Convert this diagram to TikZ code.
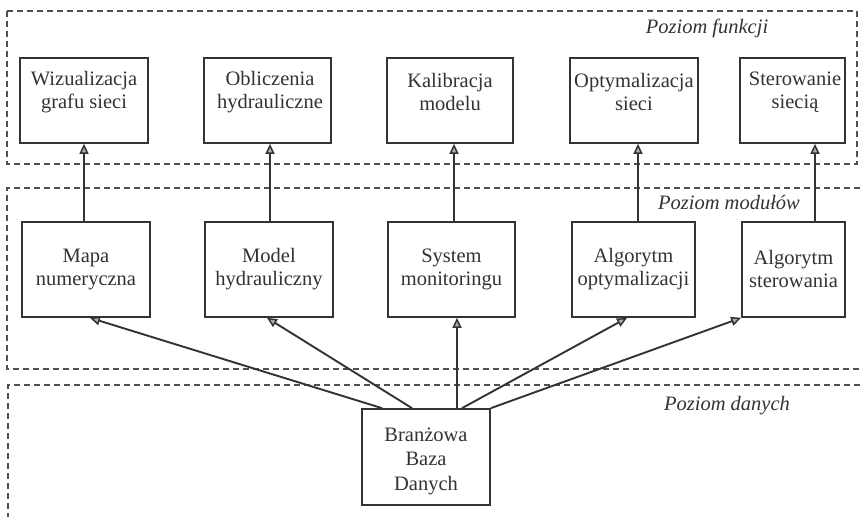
\documentclass[tikz,border=0pt]{standalone}
\usepackage{fontspec}
\setmainfont{Liberation Serif}
\usetikzlibrary{arrows.meta}
\definecolor{ink}{HTML}{333333}
\definecolor{dash}{HTML}{505050}
\begin{document}
\begin{tikzpicture}[x=1pt,y=-1pt,
  box/.style={draw=ink, line width=1.7pt, rectangle, inner sep=0pt, minimum height=#1},
  box/.default=85pt,
  txt/.style={text=ink, align=center, font=\fontsize{20.5}{23}\selectfont, inner sep=0pt},
  lvl/.style={text=ink, font=\fontsize{20.5}{23}\selectfont\itshape, inner sep=0pt},
  region/.style={draw=dash, line width=1.6pt, dash pattern=on 6pt off 4pt},
  conn/.style={draw=ink, line width=1.9pt, -{Triangle[length=10pt,width=9pt,line width=1.5pt,fill=ink!40]}}
]
\useasboundingbox (0,0) rectangle (860,517);
\fill[white] (0,0) rectangle (860,517);

% level regions
\draw[region] (7,11) rectangle (857,164);
\draw[region] (860,188) -- (7,188) -- (7,369) -- (860,369);
\draw[region] (860,385) -- (8,385) -- (8,517);

\node[lvl] (l1) at (707,28) {Poziom funkcji};
\node[lvl] (l2) at (729,202) {Poziom modułów};
\node[lvl] (l3) at (727,406) {Poziom danych};

% function level
\node[box, minimum width=128pt] (f1) at (84,100.5) {};
\node[box, minimum width=127pt] (f2) at (267.5,100.5) {};
\node[box, minimum width=126pt] (f3) at (450,100.5) {};
\node[box, minimum width=128pt] (f4) at (634,100.5) {};
\node[box, minimum width=105pt] (f5) at (792.5,100.5) {};
\node[txt] (tf1) at (84,92) {Wizualizacja\\grafu sieci};
\node[txt] (tf2) at (270,92) {Obliczenia\\hydrauliczne};
\node[txt] (tf3) at (450,92) {Kalibracja\\modelu};
\node[txt] (tf4) at (634,92) {Optymalizacja\\sieci};
\node[txt] (tf5) at (795,92) {Sterowanie\\siecią};

% module level
\node[box=95pt, minimum width=128pt] (m1) at (86,269.5) {};
\node[box=95pt, minimum width=128pt] (m2) at (269,269.5) {};
\node[box=95pt, minimum width=127pt] (m3) at (451.5,269.5) {};
\node[box=95pt, minimum width=123pt] (m4) at (633.5,269.5) {};
\node[box=95pt, minimum width=103pt] (m5) at (793.5,269.5) {};
\node[txt] (tm1) at (86,269) {Mapa\\numeryczna};
\node[txt] (tm2) at (269,269) {Model\\hydrauliczny};
\node[txt] (tm3) at (451.5,269) {System\\monitoringu};
\node[txt] (tm4) at (633.5,269) {Algorytm\\optymalizacji};
\node[txt] (tm5) at (793.5,269) {Algorytm\\sterowania};

% data level
\node[box=96pt, minimum width=128pt] (d) at (426,457) {};
\node[txt, font=\fontsize{20.5}{24.5}\selectfont] (td) at (426,461) {Branżowa\\Baza\\Danych};

% module -> function
\draw[conn] (m1.north -| 84,0) -- (f1.south -| 84,0);
\draw[conn] (m2.north -| 270,0) -- (f2.south -| 270,0);
\draw[conn] (m3.north -| 454,0) -- (f3.south -| 454,0);
\draw[conn] (m4.north -| 638,0) -- (f4.south -| 638,0);
\draw[conn] (m5.north -| 815,0) -- (f5.south -| 815,0);

% data -> modules
\draw[conn] (d.north -| 382,0) -- (m1.south -| 90,0);
\draw[conn] (d.north -| 412,0) -- (m2.south -| 267,0);
\draw[conn] (d.north -| 457,0) -- (m3.south -| 457,0);
\draw[conn] (d.north -| 462,0) -- (m4.south -| 627,0);
\draw[conn] (d.north east) -- (m5.south west);
\end{tikzpicture}
\end{document}
